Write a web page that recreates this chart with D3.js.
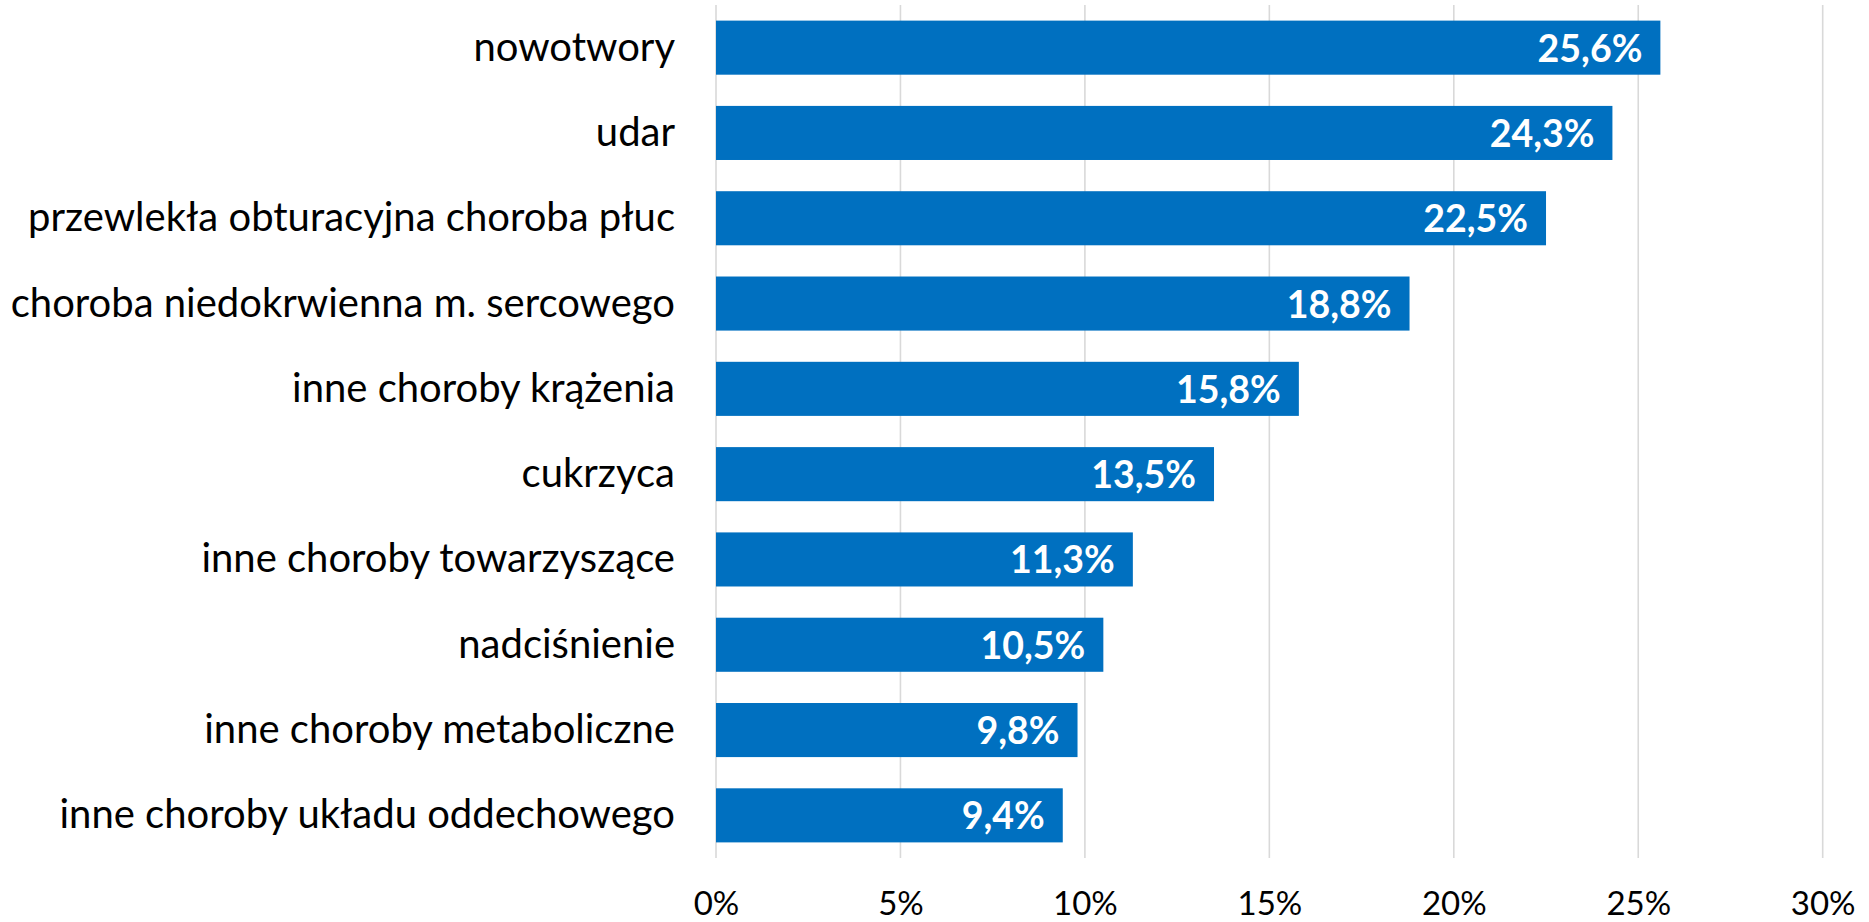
<!DOCTYPE html>
<html>
<head>
<meta charset="utf-8">
<script src="https://cdn.jsdelivr.net/npm/d3@7"></script>
<style>
  html, body { margin: 0; padding: 0; background: #fff; }
  svg { display: block; }
</style>
</head>
<body>
<svg id="chart" width="1869" height="922"></svg>
<script>
const categories = [
  "nowotwory",
  "udar",
  "przewlekła obturacyjna choroba płuc",
  "choroba niedokrwienna m. sercowego",
  "inne choroby krążenia",
  "cukrzyca",
  "inne choroby towarzyszące",
  "nadciśnienie",
  "inne choroby metaboliczne",
  "inne choroby układu oddechowego"
];
const values = [25.6, 24.3, 22.5, 18.8, 15.8, 13.5, 11.3, 10.5, 9.8, 9.4];
const tickValues = [0, 5, 10, 15, 20, 25, 30];
const tickLabels = ["0%", "5%", "10%", "15%", "20%", "25%", "30%"];

const svg = d3.select("#chart");
const FONT = "Lato, 'Open Sans', sans-serif";

const x = d3.scaleLinear().domain([0, 30]).range([716, 1822.7]);
const y = d3.scaleBand().domain(categories).range([5, 858])
  .paddingInner(0.366).paddingOuter(0.183);

// gridlines
svg.append("g").selectAll("line")
  .data(tickValues)
  .join("line")
  .attr("x1", d => x(d)).attr("x2", d => x(d))
  .attr("y1", 5).attr("y2", 858)
  .attr("stroke", "#d9d9d9")
  .attr("stroke-width", 1.6);

// x-axis labels
const xAxis = d3.axisBottom(x)
  .tickValues(tickValues)
  .tickFormat((d, i) => tickLabels[i])
  .tickSize(0)
  .tickPadding(0);
const gx = svg.append("g").attr("transform", "translate(0,858)").call(xAxis);
gx.select(".domain").remove();
gx.selectAll("text")
  .attr("dy", null)
  .attr("y", 57)
  .attr("font-family", FONT)
  .attr("font-size", 33)
  .attr("fill", "#000");

// bars
const data = categories.map((c, i) => ({ c, v: values[i] }));
svg.append("g").selectAll("rect")
  .data(data)
  .join("rect")
  .attr("x", x(0))
  .attr("y", d => y(d.c))
  .attr("width", d => x(d.v) - x(0))
  .attr("height", y.bandwidth())
  .attr("fill", "#0070C0");

// category labels (y axis)
const yAxis = d3.axisLeft(y).tickSize(0).tickPadding(0);
const gy = svg.append("g").attr("transform", `translate(${x(0) - 41},0)`).call(yAxis);
gy.select(".domain").remove();
gy.selectAll("text")
  .attr("dy", null)
  .attr("y", 13)
  .attr("font-family", FONT)
  .attr("font-size", 40)
  .attr("fill", "#000");

// value labels
svg.append("g").selectAll("text")
  .data(data)
  .join("text")
  .attr("x", d => x(d.v) - 18)
  .attr("y", d => y(d.c) + y.bandwidth() / 2 + 14)
  .attr("text-anchor", "end")
  .attr("font-family", FONT)
  .attr("font-weight", "bold")
  .attr("font-size", 37.5)
  .attr("fill", "#fff")
  .text(d => d.v.toFixed(1).replace(".", ",") + "%");
</script>
</body>
</html>
